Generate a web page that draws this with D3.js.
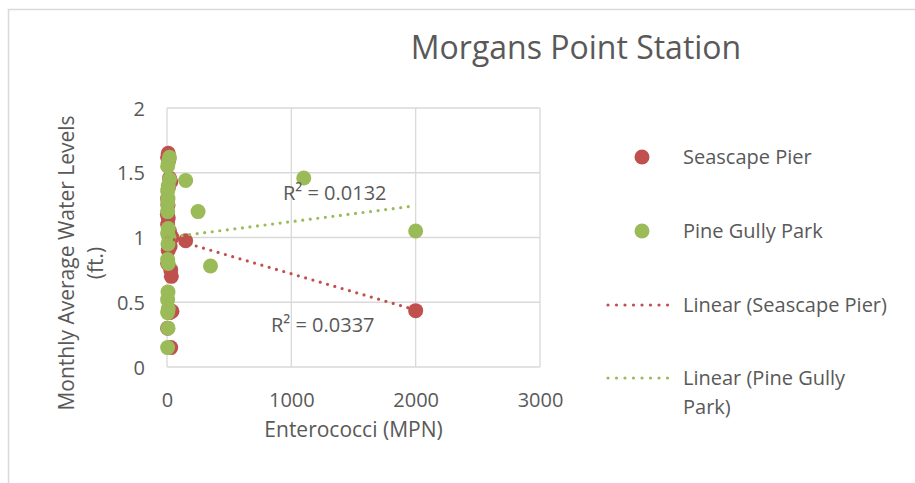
<!DOCTYPE html>
<html>
<head>
<meta charset="utf-8">
<script src="https://cdn.jsdelivr.net/npm/d3@7"></script>
<style>
  body { margin: 0; background: #fff; }
  text { font-family: "Open Sans", "Noto Sans", sans-serif; fill: #595959; }
</style>
</head>
<body>
<svg id="chart" width="915" height="483"></svg>
<script>
// Seascape Pier: [Enterococci (MPN), water level (ft.)]
const seascapePier = [
  [10, 1.65], [5, 1.62], [15, 1.6], [20, 1.46], [30, 1.43], [10, 1.38],
  [5, 1.3], [8, 1.25], [3, 1.18], [10, 1.15], [5, 1.1], [20, 1.05],
  [40, 1.0], [150, 0.975], [25, 0.93], [10, 0.9], [5, 0.8], [30, 0.75],
  [35, 0.7], [40, 0.43], [20, 0.42], [5, 0.3], [30, 0.15], [2000, 0.435]
];
// Pine Gully Park
const pineGullyPark = [
  [20, 1.62], [10, 1.58], [5, 1.55], [1100, 1.46], [20, 1.45], [150, 1.44],
  [10, 1.4], [5, 1.36], [8, 1.3], [5, 1.26], [250, 1.2], [5, 1.2],
  [10, 1.07], [5, 1.03], [15, 1.0], [8, 0.95], [5, 0.83], [10, 0.8],
  [350, 0.78], [2000, 1.05], [8, 0.58], [5, 0.52], [10, 0.45], [5, 0.42],
  [8, 0.3], [5, 0.15]
];
// linear trendline end points
const trendX = [0, 2000];
const seascapeTrendY = [1.0, 0.44];
const pineTrendY = [1.0, 1.245];
const seascapeR2 = "R² = 0.0337";
const pineR2 = "R² = 0.0132";

const xTicks = [0, 1000, 2000, 3000];
const yTicks = [0, 0.5, 1, 1.5, 2];
const legendItems = [
  { label: ["Seascape Pier"], color: "#C0504D", type: "dot" },
  { label: ["Pine Gully Park"], color: "#9BBB59", type: "dot" },
  { label: ["Linear (Seascape Pier)"], color: "#C0504D", type: "line" },
  { label: ["Linear (Pine Gully", "Park)"], color: "#9BBB59", type: "line" }
];

const svg = d3.select("#chart");
const red = "#C0504D", green = "#9BBB59", grid = "#d9d9d9";

// chart border
svg.append("rect")
  .attr("x", 8.5).attr("y", 9.5)
  .attr("width", 940).attr("height", 500)
  .attr("fill", "none").attr("stroke", grid).attr("stroke-width", 1.5);

const x = d3.scaleLinear().domain([0, 3000]).range([167, 540]);
const y = d3.scaleLinear().domain([0, 2]).range([367, 108]);

// gridlines
svg.append("g").selectAll("line")
  .data(yTicks)
  .join("line")
  .attr("x1", x(0)).attr("x2", x(3000))
  .attr("y1", d => y(d)).attr("y2", d => y(d))
  .attr("stroke", grid).attr("stroke-width", 1.3);
svg.append("g").selectAll("line")
  .data(xTicks)
  .join("line")
  .attr("x1", d => x(d)).attr("x2", d => x(d))
  .attr("y1", y(0)).attr("y2", y(2))
  .attr("stroke", grid).attr("stroke-width", 1.3);

// axes
const xAxis = svg.append("g")
  .attr("transform", `translate(0,${y(0)})`)
  .call(d3.axisBottom(x).tickValues(xTicks).tickSize(0).tickPadding(26).tickFormat(d3.format("d")));
const yAxis = svg.append("g")
  .attr("transform", `translate(${x(0)},0)`)
  .call(d3.axisLeft(y).tickValues(yTicks).tickSize(0).tickPadding(22).tickFormat(d3.format("")));
[xAxis, yAxis].forEach(a => {
  a.select(".domain").remove();
  a.selectAll("text").style("font-family", "'Open Sans', sans-serif").style("font-size", "20px").attr("fill", "#595959");
});
yAxis.selectAll("text").attr("dy", "0.36em");

// points
svg.append("g").selectAll("circle")
  .data(seascapePier)
  .join("circle")
  .attr("cx", d => x(d[0])).attr("cy", d => y(d[1]))
  .attr("r", 7.5).attr("fill", red);
svg.append("g").selectAll("circle")
  .data(pineGullyPark)
  .join("circle")
  .attr("cx", d => x(d[0])).attr("cy", d => y(d[1]))
  .attr("r", 7.5).attr("fill", green);

// trendlines
const trendLine = d3.line().x(d => x(d[0])).y(d => y(d[1]));
[[seascapeTrendY, red], [pineTrendY, green]].forEach(([ys, c]) => {
  svg.append("path")
    .attr("d", trendLine(trendX.map((v, i) => [v, ys[i]])))
    .attr("fill", "none").attr("stroke", c).attr("stroke-width", 3.2)
    .attr("stroke-linecap", "round").attr("stroke-dasharray", "0,7.6");
});

// R² labels
svg.append("text").attr("x", 283).attr("y", 200).style("font-size", "20px").text(pineR2);
svg.append("text").attr("x", 271).attr("y", 332).style("font-size", "20px").text(seascapeR2);

// title
svg.append("text")
  .attr("x", 576).attr("y", 59).attr("text-anchor", "middle")
  .style("font-size", "32px").text("Morgans Point Station");

// axis titles
svg.append("text")
  .attr("x", x(1500)).attr("y", 437).attr("text-anchor", "middle")
  .style("font-size", "21px").text("Enterococci (MPN)");
const yTitle = svg.append("text")
  .attr("transform", "translate(0,263) rotate(-90)")
  .attr("text-anchor", "middle").style("font-size", "21px");
yTitle.append("tspan").attr("x", 0).attr("y", 74).text("Monthly Average Water Levels");
yTitle.append("tspan").attr("x", 0).attr("y", 103).text("(ft.)");

// legend
const legendY = [157, 231, 305, 378];
const legend = svg.append("g");
legendItems.forEach((item, i) => {
  const g = legend.append("g").attr("transform", `translate(0,${legendY[i]})`);
  if (item.type === "dot") {
    g.append("circle").attr("cx", 642).attr("cy", 0).attr("r", 7.5).attr("fill", item.color);
  } else {
    g.append("line").attr("x1", 608).attr("x2", 676).attr("y1", 0).attr("y2", 0)
      .attr("stroke", item.color).attr("stroke-width", 3.2)
      .attr("stroke-linecap", "round").attr("stroke-dasharray", "0,8.5");
  }
  item.label.forEach((t, j) => {
    g.append("text").attr("x", 683).attr("y", 7 + j * 29).style("font-size", "20px").text(t);
  });
});
</script>
</body>
</html>
